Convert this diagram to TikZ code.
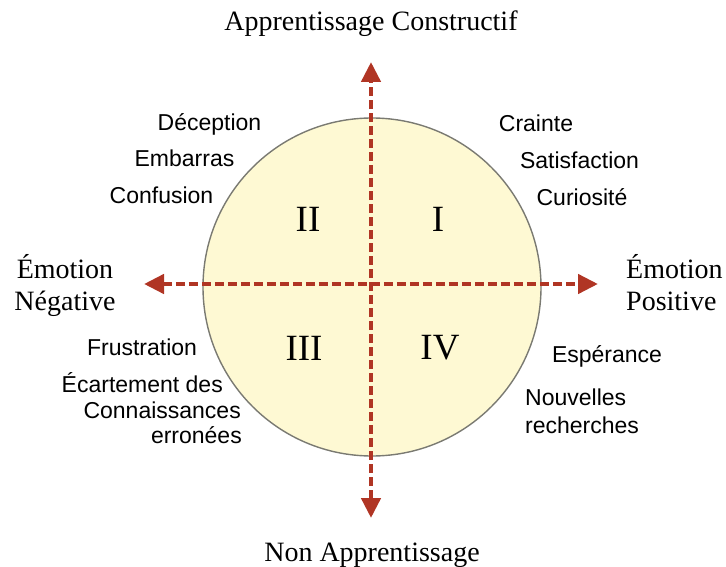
\documentclass[tikz,border=0pt]{standalone}
\usepackage{fontspec}
\setmainfont{Liberation Serif}
\setsansfont{Liberation Sans}
\usetikzlibrary{arrows.meta}
\definecolor{axisred}{HTML}{B03524}
\definecolor{discfill}{HTML}{FEF9D3}
\definecolor{discline}{HTML}{7A7A72}
\begin{document}
\begin{tikzpicture}[x=1pt,y=-1pt,
  axis/.style={axisred,line width=4.5pt,dash pattern=on 9pt off 4pt,
    {Triangle[width=19pt,length=20pt]}-{Triangle[width=19pt,length=20pt]}},
  emo/.style={font=\sffamily\fontsize{23}{27}\selectfont,anchor=base,inner sep=0pt},
  pole/.style={font=\fontsize{28}{32}\selectfont,anchor=base,inner sep=0pt},
  quad/.style={font=\fontsize{37}{40}\selectfont,inner sep=0pt}]
\useasboundingbox (0,0) rectangle (726,567);
% disc
\node[circle,draw=discline,line width=1.4pt,fill=discfill,minimum size=338pt,inner sep=0pt] (disc) at (372,287) {};
% axis end points
\coordinate (top) at (371,62);
\coordinate (bottom) at (371,518);
\coordinate (left) at (144,284);
\coordinate (right) at (598,284);
\draw[axis] (bottom) -- (top);
\draw[axis] (left) -- (right);
% quadrant numerals
\node[quad] (q2) at (308,219) {II};
\node[quad] (q1) at (438,219) {I};
\node[quad] (q3) at (304,348) {III};
\node[quad] (q4) at (440,348) {IV};
% pole labels
\node[pole] (tl) at (371,31) {Apprentissage Constructif};
\node[pole] (bl) at (372,561) {Non Apprentissage};
\node[pole] (ll) at (65,278) {Émotion};
\node[pole] (ll2) at (65,310) {Négative};
\node[pole,anchor=base west] (rl) at (626,278) {Émotion};
\node[pole,anchor=base west] (rl2) at (626,310) {Positive};
% emotions, quadrant II
\node[emo] (e1) at (209.5,131) {Déception};
\node[emo] (e2) at (184.5,167) {Embarras};
\node[emo] (e3) at (161.5,204) {Confusion};
% quadrant I
\node[emo] (e4) at (536,132) {Crainte};
\node[emo] (e5) at (579.5,168) {Satisfaction};
\node[emo] (e6) at (582,205) {Curiosité};
% quadrant III
\node[emo] (e7) at (142,355) {Frustration};
\node[emo,anchor=base east] (e8) at (223,392) {Écartement des};
\node[emo,anchor=base east] (e9) at (241,418) {Connaissances};
\node[emo,anchor=base east] (e10) at (242,443) {erronées};
% quadrant IV
\node[emo] (e11) at (607,362) {Espérance};
\node[emo,anchor=base west] (e12) at (525,405) {Nouvelles};
\node[emo,anchor=base west] (e13) at (525,433) {recherches};
\end{tikzpicture}
\end{document}
